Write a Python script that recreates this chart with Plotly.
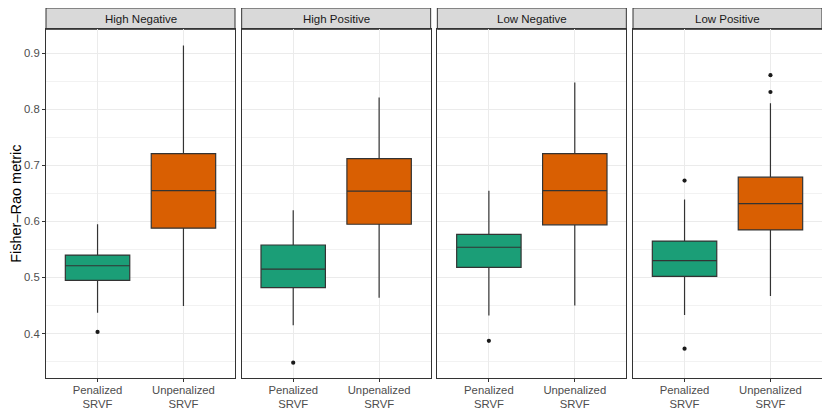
import plotly.graph_objects as go

# ---------------- data ----------------
panels = ["High Negative", "High Positive", "Low Negative", "Low Positive"]
methods = ["Penalized SRVF", "Unpenalized SRVF"]
method_ticks = ["Penalized<br>SRVF", "Unpenalized<br>SRVF"]
colors = ["#1B9E77", "#D95F02"]

# per panel, for each method
pen_lower = [0.437, 0.415, 0.432, 0.433]
pen_q1 = [0.495, 0.482, 0.518, 0.502]
pen_median = [0.521, 0.515, 0.554, 0.530]
pen_q3 = [0.540, 0.558, 0.577, 0.565]
pen_upper = [0.595, 0.620, 0.655, 0.639]
pen_outliers = [[0.403], [0.348], [0.387], [0.673, 0.373]]

unp_lower = [0.449, 0.464, 0.450, 0.467]
unp_q1 = [0.588, 0.595, 0.594, 0.585]
unp_median = [0.655, 0.654, 0.655, 0.632]
unp_q3 = [0.721, 0.712, 0.721, 0.679]
unp_upper = [0.914, 0.821, 0.848, 0.811]
unp_outliers = [[], [], [], [0.861, 0.831]]

y_ticks = [0.4, 0.5, 0.6, 0.7, 0.8, 0.9]

# ---------------- layout geometry ----------------
# the page body has an 8px margin, so the figure is 8px smaller
W, H = 822, 407
ml, mr, mt, mb = 38, 8, 0, 37
pw = W - ml - mr
ph = H - mt - mb
panel_w = 189.0
gap = (pw - 4 * panel_w) / 3
panel_top = (ph - 21.3) / ph  # fraction of plot height

FONT = "Liberation Sans, Arial, sans-serif"

stats = {
    methods[0]: (pen_lower, pen_q1, pen_median, pen_q3, pen_upper, pen_outliers),
    methods[1]: (unp_lower, unp_q1, unp_median, unp_q3, unp_upper, unp_outliers),
}

fig = go.Figure()
shapes = []
annotations = []

for i, pname in enumerate(panels):
    sfx = "" if i == 0 else str(i + 1)
    xa, ya = "x" + sfx, "y" + sfx
    x0 = (i * (panel_w + gap)) / pw
    x1 = (i * (panel_w + gap) + panel_w) / pw
    for j, m in enumerate(methods):
        lo, q1, med, q3, up, outs = stats[m]
        fig.add_trace(go.Box(
            x=[m], lowerfence=[lo[i]], q1=[q1[i]], median=[med[i]],
            q3=[q3[i]], upperfence=[up[i]],
            fillcolor=colors[j], line=dict(color="#333333", width=1.2),
            width=0.75, whiskerwidth=0, boxpoints=False,
            xaxis=xa, yaxis=ya, showlegend=False,
        ))
        if outs[i]:
            fig.add_trace(go.Scatter(
                x=[m] * len(outs[i]), y=outs[i], mode="markers",
                marker=dict(color="#1a1a1a", size=4.2),
                xaxis=xa, yaxis=ya, showlegend=False,
            ))
    xkey = "xaxis" + sfx
    ykey = "yaxis" + sfx
    fig.layout[xkey] = dict(
        domain=[x0, x1], anchor=ya, type="category",
        categoryorder="array", categoryarray=methods,
        range=[-0.6, 1.6], tickvals=methods, ticktext=method_ticks,
        showgrid=True, gridcolor="#EBEBEB", gridwidth=1.2,
        showline=True, mirror=True, linecolor="#333333", linewidth=1,
        ticks="outside", ticklen=3, tickcolor="#333333", tickwidth=1,
        ticklabelstandoff=-2,
        tickfont=dict(family=FONT, size=11.3, color="#4D4D4D"),
        zeroline=False, fixedrange=True,
    )
    yconf = dict(
        domain=[0, panel_top], anchor=xa, range=[0.3207, 0.9429],
        tickvals=y_ticks, showgrid=True, gridcolor="#EBEBEB", gridwidth=1.2,
        minor=dict(tickvals=[0.35, 0.45, 0.55, 0.65, 0.75, 0.85],
                   showgrid=True, gridcolor="#F2F2F2", gridwidth=0.7, ticks=""),
        showline=True, mirror=True, linecolor="#333333", linewidth=1,
        zeroline=False, fixedrange=True,
    )
    if i == 0:
        yconf.update(
            ticks="outside", ticklen=3, tickcolor="#333333", tickwidth=1,
            tickfont=dict(family=FONT, size=11.3, color="#4D4D4D"),
            tickformat=".1f",
            title=dict(text="Fisher\u2013Rao metric", standoff=0,
                       font=dict(family=FONT, size=14.5, color="#000000")),
        )
    else:
        yconf.update(matches="y", showticklabels=False, ticks="")
    fig.layout[ykey] = yconf

    # strip
    shapes.append(dict(type="rect", xref="paper", yref="paper",
                       x0=x0, x1=x1, y0=panel_top, y1=1.0,
                       fillcolor="#D9D9D9", line=dict(color="#333333", width=1),
                       layer="below"))
    annotations.append(dict(text=pname, xref="paper", yref="paper",
                            x=(x0 + x1) / 2, y=(panel_top + 1) / 2,
                            xanchor="center", yanchor="middle", showarrow=False,
                            font=dict(family=FONT, size=11.5, color="#1A1A1A")))

fig.update_layout(
    width=W, height=H,
    margin=dict(l=ml, r=mr, t=mt, b=mb),
    paper_bgcolor="white", plot_bgcolor="white",
    boxmode="overlay",
    shapes=shapes, annotations=annotations,
    font=dict(family=FONT),
)

fig.write_html("out.html")
